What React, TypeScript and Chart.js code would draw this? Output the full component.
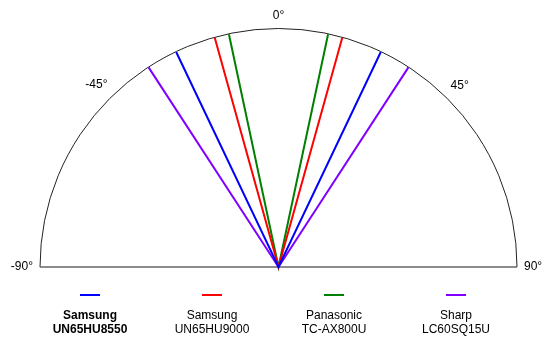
import React, { useEffect, useRef } from "react";
import { Chart, registerables } from "chart.js";

Chart.register(...registerables);

// Viewing angles (degrees either side of center)
const seriesBrand = ["Samsung", "Samsung", "Panasonic", "Sharp"];
const seriesModel = ["UN65HU8550", "UN65HU9000", "TC-AX800U", "LC60SQ15U"];
const seriesAngle = [25.4, 15.5, 12.0, 33.0];
const seriesColor = ["#0000ff", "#ff0000", "#008000", "#8000ff"];
const seriesBold = [true, false, false, false];
const tickAngles = [-90, -45, 0, 45, 90];
const tickLabels = ["-90°", "-45°", "0°", "45°", "90°"];

const FONT = '"Liberation Sans", Arial, Helvetica, sans-serif';
const legendCenters = [90, 212, 334, 456];

const framePlugin = {
  id: "frame",
  beforeDatasetsDraw(chart: any) {
    const { ctx, scales } = chart;
    const cx = scales.x.getPixelForValue(0);
    const cy = scales.y.getPixelForValue(0);
    const r = scales.x.getPixelForValue(1) - cx;
    ctx.save();
    ctx.beginPath();
    ctx.arc(cx, cy, r, Math.PI, 2 * Math.PI);
    ctx.strokeStyle = "#222";
    ctx.lineWidth = 1;
    ctx.stroke();
    ctx.beginPath();
    ctx.moveTo(cx - r, cy);
    ctx.lineTo(cx + r, cy);
    ctx.strokeStyle = "#666";
    ctx.lineWidth = 1.5;
    ctx.stroke();
    ctx.font = "12px " + FONT;
    ctx.fillStyle = "#000";
    ctx.textAlign = "center";
    ctx.textBaseline = "middle";
    tickAngles.forEach((a, i) => {
      const t = (a * Math.PI) / 180;
      const s = Math.sin(t);
      const c = Math.cos(t);
      const w = ctx.measureText(tickLabels[i]).width;
      const half = Math.abs(s) * w / 2 + Math.abs(c) * 6;
      const d = r + 7 + half;
      ctx.fillText(tickLabels[i], cx + s * d, cy - c * d);
    });
    ctx.restore();
  },
};

export default function App() {
  const ref = useRef<HTMLCanvasElement | null>(null);
  useEffect(() => {
    if (!ref.current) return;
    const datasets = seriesAngle.map((a, i) => {
      const t = (a * Math.PI) / 180;
      return {
        label: seriesBrand[i] + " " + seriesModel[i],
        data: [
          { x: -Math.sin(t), y: Math.cos(t) },
          { x: 0, y: 0 },
          { x: Math.sin(t), y: Math.cos(t) },
        ],
        showLine: true,
        borderColor: seriesColor[i],
        backgroundColor: seriesColor[i],
        borderWidth: 2,
        pointRadius: 0,
        clip: false as any,
      };
    });
    const chart = new Chart(ref.current, {
      type: "scatter",
      data: { datasets },
      options: {
        animation: false,
        responsive: false,
        layout: { padding: { left: 40, right: 35, top: 29, bottom: 76 } },
        scales: {
          x: { type: "linear", min: -1, max: 1, display: false },
          y: { type: "linear", min: 0, max: 1, display: false },
        },
        plugins: { legend: { display: false }, tooltip: { enabled: false } },
      },
      plugins: [framePlugin],
    });
    return () => chart.destroy();
  }, []);

  return (
    <div style={{ position: "fixed", left: 0, top: 0, width: 552, height: 343, background: "#fff" }}>
      <canvas ref={ref} width={552} height={343} style={{ display: "block" }} />
      {seriesModel.map((m, i) => (
        <div
          key={m}
          style={{
            position: "absolute",
            left: legendCenters[i] - 60,
            top: 285,
            width: 120,
            textAlign: "center",
            fontFamily: FONT,
            fontSize: 12,
            lineHeight: "14px",
            fontWeight: seriesBold[i] ? "bold" : "normal",
            color: "#000",
          }}
        >
          <div style={{ width: 20, height: 2, background: seriesColor[i], margin: "9px auto 12px" }} />
          <div>{seriesBrand[i]}</div>
          <div>{m}</div>
        </div>
      ))}
    </div>
  );
}
